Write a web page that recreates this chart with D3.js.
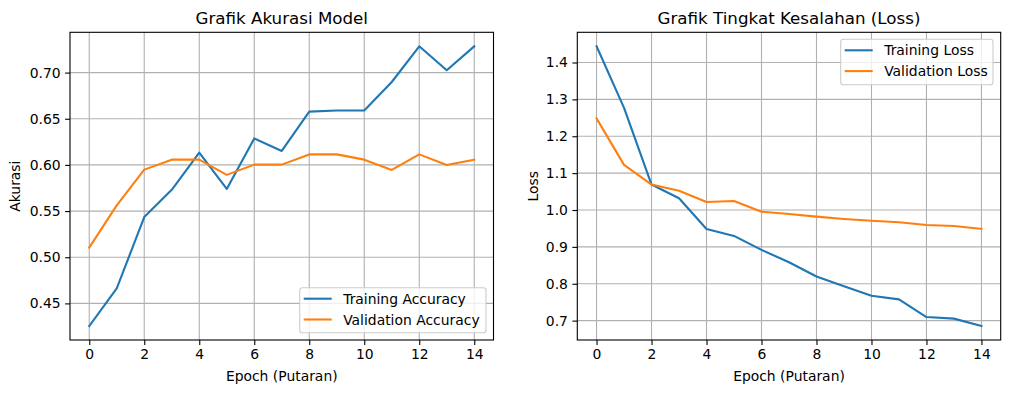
<!DOCTYPE html>
<html>
<head>
<meta charset="utf-8">
<script src="https://cdn.jsdelivr.net/npm/d3@7"></script>
<style>
  body { margin: 0; background: #fff; }
  svg { font-family: "DejaVu Sans", sans-serif; }
</style>
</head>
<body>
<svg id="canvas" width="1010" height="393"></svg>
<script>
const epochs = [0, 1, 2, 3, 4, 5, 6, 7, 8, 9, 10, 11, 12, 13, 14];

const trainAcc = [0.4255, 0.4662, 0.5435, 0.573, 0.6133, 0.574, 0.6287, 0.6151,
  0.6577, 0.659, 0.659, 0.6898, 0.7285, 0.7025, 0.7285];
const valAcc = [0.5104, 0.5561, 0.5949, 0.6057, 0.6057, 0.5892, 0.6003, 0.6003,
  0.6114, 0.6114, 0.6057, 0.5946, 0.6114, 0.6, 0.6057];

const trainLoss = [1.444, 1.277, 1.069, 1.032, 0.9486, 0.9297, 0.8919, 0.8584,
  0.8197, 0.7935, 0.7676, 0.7576, 0.7097, 0.7054, 0.6854];
const valLoss = [1.2486, 1.1224, 1.069, 1.052, 1.0216, 1.0243, 0.9954, 0.989,
  0.982, 0.9757, 0.971, 0.9667, 0.9595, 0.9568, 0.9486];

const xTicks = [0, 2, 4, 6, 8, 10, 12, 14];
const accTicks = [0.45, 0.5, 0.55, 0.6, 0.65, 0.7];
const lossTicks = [0.7, 0.8, 0.9, 1.0, 1.1, 1.2, 1.3, 1.4];

const blue = "#1f77b4";
const orange = "#ff7f0e";

const canvas = d3.select("#canvas");

// domain with matplotlib-style 5% margins
const padded = (lo, hi) => {
  const m = (hi - lo) * 0.05;
  return [lo - m, hi + m];
};

const drawPanel = (opt) => {
  const x = d3.scaleLinear()
    .domain(padded(d3.min(epochs), d3.max(epochs)))
    .range([opt.left, opt.right]);
  const all = opt.series.flatMap((s) => s.values);
  const y = d3.scaleLinear()
    .domain(padded(d3.min(all), d3.max(all)))
    .range([opt.bottom, opt.top]);

  const g = canvas.append("g");

  // grid
  g.append("g")
    .selectAll("line")
    .data(xTicks)
    .join("line")
    .attr("x1", (d) => x(d)).attr("x2", (d) => x(d))
    .attr("y1", opt.top).attr("y2", opt.bottom)
    .attr("stroke", "#b0b0b0").attr("stroke-width", 1.1);
  g.append("g")
    .selectAll("line")
    .data(opt.yTicks)
    .join("line")
    .attr("y1", (d) => y(d)).attr("y2", (d) => y(d))
    .attr("x1", opt.left).attr("x2", opt.right)
    .attr("stroke", "#b0b0b0").attr("stroke-width", 1.1);

  // lines
  const line = (vals) => d3.line()
    .x((d, i) => x(epochs[i]))
    .y((d) => y(d))(vals);
  opt.series.forEach((s) => {
    g.append("path")
      .attr("d", line(s.values))
      .attr("fill", "none")
      .attr("stroke", s.color)
      .attr("stroke-width", 2.1)
      .attr("stroke-linejoin", "round")
      .attr("stroke-linecap", "square");
  });

  // axes
  const xAxis = d3.axisBottom(x)
    .tickValues(xTicks)
    .tickSize(4.9)
    .tickPadding(4.5)
    .tickFormat(d3.format("d"));
  const yAxis = d3.axisLeft(y)
    .tickValues(opt.yTicks)
    .tickSize(4.9)
    .tickPadding(4.5)
    .tickFormat(d3.format(opt.yFormat));

  g.append("g")
    .attr("transform", `translate(0,${opt.bottom})`)
    .call(xAxis)
    .call((a) => a.select(".domain").remove());
  g.append("g")
    .attr("transform", `translate(${opt.left},0)`)
    .call(yAxis)
    .call((a) => a.select(".domain").remove());
  g.selectAll(".tick line").attr("stroke", "#000").attr("stroke-width", 1.1);
  g.selectAll(".tick text")
    .attr("fill", "#000")
    .style("font-size", "13.9px")
    .style("font-family", "DejaVu Sans");

  // frame
  g.append("rect")
    .attr("x", opt.left).attr("y", opt.top)
    .attr("width", opt.right - opt.left)
    .attr("height", opt.bottom - opt.top)
    .attr("fill", "none")
    .attr("stroke", "#000")
    .attr("stroke-width", 1.1);

  // title & labels
  g.append("text")
    .attr("x", (opt.left + opt.right) / 2)
    .attr("y", opt.top - 8.4)
    .attr("text-anchor", "middle")
    .style("font-size", "16.7px")
    .text(opt.title);
  g.append("text")
    .attr("x", (opt.left + opt.right) / 2)
    .attr("y", 381)
    .attr("text-anchor", "middle")
    .style("font-size", "13.9px")
    .text("Epoch (Putaran)");
  g.append("text")
    .attr("transform", `translate(${opt.yLabelX},${(opt.top + opt.bottom) / 2}) rotate(-90)`)
    .attr("text-anchor", "middle")
    .style("font-size", "13.9px")
    .text(opt.yLabel);

  // legend
  const L = opt.legend;
  g.append("rect")
    .attr("x", L.x).attr("y", L.y)
    .attr("width", L.w).attr("height", L.h)
    .attr("rx", 2.8)
    .attr("fill", "rgba(255,255,255,0.8)")
    .attr("stroke", "#cccccc")
    .attr("stroke-width", 1.1);
  opt.series.forEach((s, i) => {
    const cy = L.y + 11 + i * 20.8;
    g.append("line")
      .attr("x1", L.x + 4).attr("x2", L.x + 32)
      .attr("y1", cy).attr("y2", cy)
      .attr("stroke", s.color)
      .attr("stroke-width", 2.1);
    g.append("text")
      .attr("x", L.x + 43.5)
      .attr("y", cy + 5)
      .style("font-size", "13.9px")
      .text(s.name);
  });
};

drawPanel({
  left: 70, right: 493.5, top: 32.3, bottom: 340,
  title: "Grafik Akurasi Model",
  yLabel: "Akurasi", yLabelX: 20,
  yTicks: accTicks, yFormat: ".2f",
  series: [
    { name: "Training Accuracy", values: trainAcc, color: blue },
    { name: "Validation Accuracy", values: valAcc, color: orange }
  ],
  legend: { x: 299.7, y: 287.7, w: 186.3, h: 45 }
});

drawPanel({
  left: 577.3, right: 1000.7, top: 32.3, bottom: 340,
  title: "Grafik Tingkat Kesalahan (Loss)",
  yLabel: "Loss", yLabelX: 538,
  yTicks: lossTicks, yFormat: ".1f",
  series: [
    { name: "Training Loss", values: trainLoss, color: blue },
    { name: "Validation Loss", values: valLoss, color: orange }
  ],
  legend: { x: 840.7, y: 39.3, w: 152.3, h: 45.4 }
});
</script>
</body>
</html>
